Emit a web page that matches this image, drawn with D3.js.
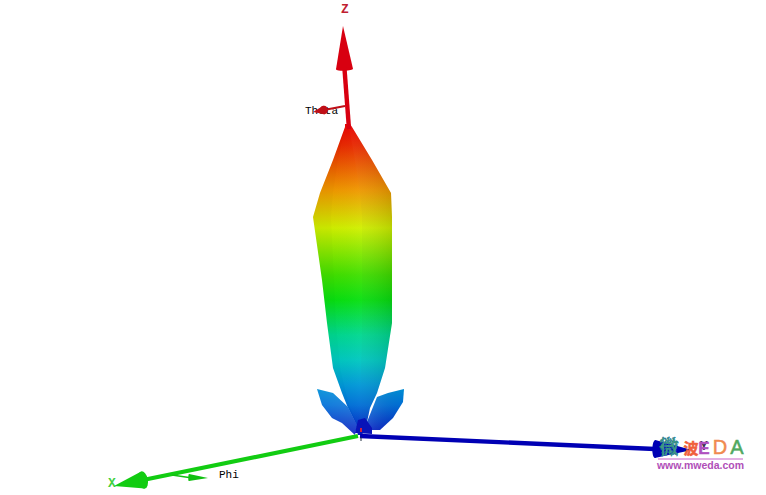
<!DOCTYPE html>
<html><head><meta charset="utf-8">
<style>html,body{margin:0;background:#fff}svg{display:block}</style>
<script src="https://cdn.jsdelivr.net/npm/d3@7"></script></head>
<body><svg id="c" width="766" height="495"></svg>
<script>
// Scene units: horizontal offset from origin, height above origin (1 unit = 100 px at this view)
const lobeGain   = [3.11, 3.08, 2.75, 2.42, 2.18, 1.55, 1.12, 0.67, 0.42, 0.27, 0.13, 0.00];
const lobeLeft   = [-0.13,-0.13,-0.25,-0.38,-0.45,-0.36,-0.31,-0.25,-0.16,-0.10,-0.03, 0.00];
const lobeRidge  = [-0.13,-0.13,-0.20,-0.25,-0.27,-0.24,-0.22,-0.18,-0.12,-0.08,-0.02, 0.00];
const lobeMid    = [-0.11,-0.09,-0.03, 0.02, 0.04, 0.04, 0.04, 0.03, 0.02, 0.02, 0.01, 0.01];
const lobeRight  = [-0.08,-0.06, 0.14, 0.33, 0.34, 0.34, 0.34, 0.27, 0.19, 0.12, 0.09, 0.04];
const leftLobeU  = [-0.41,-0.25,-0.10,-0.01,-0.03,-0.16,-0.26,-0.36];
const leftLobeG  = [ 0.46, 0.42, 0.28, 0.10, 0.00, 0.12, 0.17, 0.30];
const rightLobeU = [ 0.46, 0.30, 0.19, 0.09, 0.10, 0.22, 0.35, 0.45];
const rightLobeG = [ 0.46, 0.42, 0.38, 0.13, 0.05, 0.05, 0.17, 0.33];
const coreU      = [-0.03, 0.00, 0.07, 0.14, 0.14];
const coreG      = [ 0.02, 0.15, 0.17, 0.07, 0.01];
const colorGain  = [0.00, 0.12, 0.30, 0.50, 0.75, 1.00, 1.35, 1.60, 2.07, 2.45, 2.90, 3.11];
const colorHue   = ["#0010c0","#0038c8","#0070d8","#0098d8","#00c8c0","#00d890","#08e010","#40e000","#d0f000","#f09800","#e82800","#e80000"];
const axisNames  = ["Z","X","Y","Theta","Phi"];
const axisFromU  = [-0.09, 0.00, 0.02,-0.13,-1.86];
const axisFromG  = [ 3.06,-0.01,-0.01, 3.29,-0.40];
const axisToU    = [-0.15,-2.44, 3.34,-0.45,-1.50];
const axisToG    = [ 4.09,-0.51,-0.15, 3.23,-0.43];
const headBaseU  = [-0.135,-2.15, 2.97,-0.34,-1.69];
const headBaseG  = [ 3.66,-0.45,-0.14, 3.25,-0.425];
const headWidth  = [ 0.085, 0.088, 0.09, 0.042, 0.035];
const headBulge  = [ 0.2, 0.55, 0.3, 0.9, 0.2];
const shaftWidth = [ 4.4, 4.2, 4.4, 1.8, 1.6];
const axisColor  = ["#d80010","#12cc12","#0000b4","#c01018","#10c010"];
const labelNames = ["Z","X","Y"];
const labelU     = [-0.13,-2.46, 3.46];
const labelG     = [ 4.25,-0.49,-0.12];
const labelColor = ["#c02030","#40d040","#403050"];
const captionNames = ["Theta","Phi"];
const captionU   = [-0.53,-1.39];
const captionG   = [ 3.24,-0.40];
const logoChars  = ["微","波","E","D","A"];
const logoU      = [3.11, 3.33, 3.46, 3.62, 3.79];
const logoSize   = [19, 15, 17, 20, 20];
const logoColor  = ["#3f9a80","#f0603c","#b050c0","#f08a50","#50a860"];
const logoUrl    = "www.mweda.com";

const x = d3.scaleLinear().domain([-3.58, 4.08]).range([0, 766]);
const y = d3.scaleLinear().domain([4.35, -0.60]).range([0, 495]);
const color = d3.scaleLinear().domain(colorGain).range(colorHue);
const svg = d3.select("#c");
const defs = svg.append("defs");

const grad = defs.append("linearGradient").attr("id","rain").attr("gradientUnits","userSpaceOnUse")
  .attr("x1",0).attr("x2",0).attr("y1",y(0)).attr("y2",y(3.11));
colorGain.forEach(g=>grad.append("stop").attr("offset",g/3.11).attr("stop-color",color(g)));

function shade(id, c1, o1, c2, o2){
  const g = defs.append("linearGradient").attr("id",id).attr("x1",0).attr("x2",1).attr("y1",0).attr("y2",0);
  g.append("stop").attr("offset",0).attr("stop-color",c1).attr("stop-opacity",o1);
  g.append("stop").attr("offset",1).attr("stop-color",c2).attr("stop-opacity",o2);
}
shade("s1","#000",0.05,"#000",0.02);
shade("s2","#000",0.02,"#fff",0.04);
shade("s3","#fff",0.04,"#000",0.12);
shade("sl","#fff",0.06,"#fff",0.14);
shade("sr","#fff",0.14,"#000",0.02);

const line = d3.line().x(d=>x(d[0])).y(d=>y(d[1]));
const band = (a,b)=> line(a.map((u,i)=>[u,lobeGain[i]]).concat(b.map((u,i)=>[u,lobeGain[i]]).reverse()))+"Z";
const poly = (us,gs)=> line(us.map((u,i)=>[u,gs[i]]))+"Z";

// lobes sit behind the Z shaft and the small arrows
svg.append("path").attr("d",band(lobeLeft,lobeRight)).attr("fill","url(#rain)");
svg.append("path").attr("d",band(lobeLeft,lobeRidge)).attr("fill","url(#s1)");
svg.append("path").attr("d",band(lobeRidge,lobeMid)).attr("fill","url(#s2)");
svg.append("path").attr("d",band(lobeMid,lobeRight)).attr("fill","url(#s3)");
svg.append("path").attr("d",poly(leftLobeU,leftLobeG)).attr("fill","url(#rain)");
svg.append("path").attr("d",poly(leftLobeU,leftLobeG)).attr("fill","url(#sl)");
svg.append("path").attr("d",poly(rightLobeU,rightLobeG)).attr("fill","url(#rain)");
svg.append("path").attr("d",poly(rightLobeU,rightLobeG)).attr("fill","url(#sr)");
svg.append("path").attr("d",poly(coreU,coreG)).attr("fill","#0814b8");

// captions sit behind the little arrows
svg.selectAll(".cap").data(captionNames).join("text").attr("class","cap")
  .attr("x",(d,i)=>x(captionU[i])).attr("y",(d,i)=>y(captionG[i]))
  .attr("dominant-baseline","middle").attr("font-family","Liberation Mono").attr("font-size",11)
  .attr("fill","#000").text(d=>d);

function arrow(i){
  const f=[axisFromU[i],axisFromG[i]], t=[axisToU[i],axisToG[i]], b=[headBaseU[i],headBaseG[i]];
  const px=x(t[0])-x(b[0]), py=y(t[1])-y(b[1]), L=Math.hypot(px,py);
  const w=headWidth[i]*100, nx=-py/L*w, ny=px/L*w;
  const g=svg.append("g");
  g.append("path").attr("d",line([f,b])).attr("stroke",axisColor[i]).attr("stroke-width",shaftWidth[i]).attr("fill","none");
  g.append("path").attr("d",`M${x(t[0])},${y(t[1])}L${x(b[0])+nx},${y(b[1])+ny}L${x(b[0])-nx},${y(b[1])-ny}Z`).attr("fill",axisColor[i]);
  g.append("ellipse").attr("cx",x(b[0])).attr("cy",y(b[1])).attr("rx",w*headBulge[i]).attr("ry",w)
    .attr("transform",`rotate(${Math.atan2(py,px)*180/Math.PI} ${x(b[0])} ${y(b[1])})`).attr("fill",axisColor[i]);
}
axisNames.forEach((n,i)=>arrow(i));

svg.append("path").attr("d",line([[0.03,0.07],[0.03,0.03]])).attr("stroke","#d02040").attr("stroke-width",2);
svg.append("path").attr("d",line([[0.03,-0.02],[0.03,-0.06]])).attr("stroke","#203040").attr("stroke-width",1);

// axis letters
svg.selectAll(".al").data(labelNames).join("text").attr("class","al")
  .attr("x",(d,i)=>x(labelU[i])).attr("y",(d,i)=>y(labelG[i]))
  .attr("text-anchor","middle").attr("dominant-baseline","middle")
  .attr("font-family","Liberation Mono").attr("font-size",13).attr("font-weight","bold")
  .attr("fill",(d,i)=>labelColor[i]).text(d=>d);

// logo
svg.selectAll(".lg").data(logoChars).join("text").attr("class","lg")
  .attr("x",(d,i)=>x(logoU[i])).attr("y",y(-0.19)).attr("text-anchor","middle")
  .attr("font-family",(d,i)=>i<2?"Noto Sans CJK SC":"Liberation Sans").attr("font-size",(d,i)=>logoSize[i])
  .attr("font-weight",(d,i)=>i<3?"bold":"normal")
  .attr("stroke",(d,i)=>i==0?"#2878a0":logoColor[i]).attr("stroke-width",(d,i)=>i==0?1:0.5)
  .attr("stroke-dasharray",(d,i)=>i==0?"1.5 1.5":null)
  .attr("fill",(d,i)=>logoColor[i]).text(d=>d);
svg.append("path").attr("d",line([[3.0,-0.24],[3.85,-0.24]])).attr("stroke","#c860c8").attr("stroke-width",1.2);
svg.append("text").attr("x",x(3.425)).attr("y",y(-0.34)).attr("text-anchor","middle")
  .attr("font-family","Liberation Sans").attr("font-size",10.5).attr("font-weight","bold")
  .attr("fill","#b050b8").text(logoUrl);
</script></body></html>
